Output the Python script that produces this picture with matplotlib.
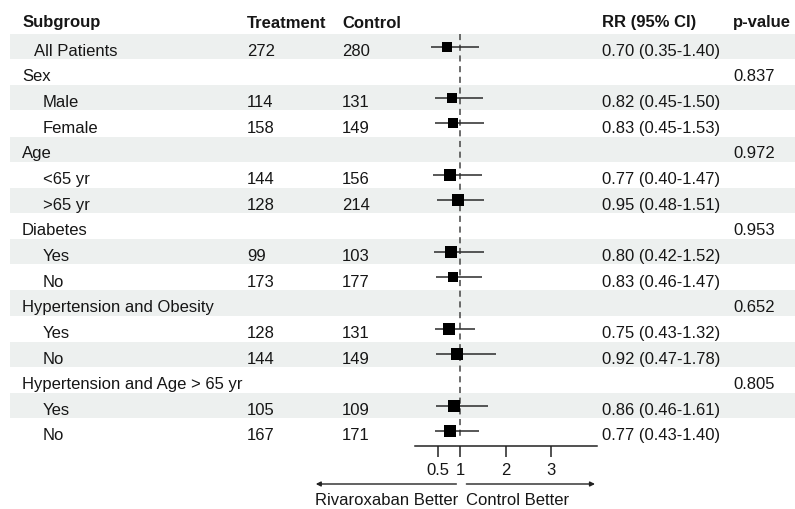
import matplotlib
matplotlib.use("Agg")
import matplotlib.pyplot as plt

plt.rcParams['font.family'] = ['Liberation Sans', 'DejaVu Sans']

# ---- data ----
subgroups = ['All Patients', 'Sex', 'Male', 'Female', 'Age', '<65 yr', '>65 yr',
             'Diabetes', 'Yes', 'No', 'Hypertension and Obesity', 'Yes', 'No',
             'Hypertension and Age > 65 yr', 'Yes', 'No']
is_category = [False, True, False, False, True, False, False,
               True, False, False, True, False, False, True, False, False]
treatment = [272, None, 114, 158, None, 144, 128, None, 99, 173, None, 128, 144, None, 105, 167]
control = [280, None, 131, 149, None, 156, 214, None, 103, 177, None, 131, 149, None, 109, 171]
rr = [0.70, None, 0.82, 0.83, None, 0.77, 0.95, None, 0.80, 0.83, None, 0.75, 0.92, None, 0.86, 0.77]
ci_low = [0.35, None, 0.45, 0.45, None, 0.40, 0.48, None, 0.42, 0.46, None, 0.43, 0.47, None, 0.46, 0.43]
ci_high = [1.40, None, 1.50, 1.53, None, 1.47, 1.51, None, 1.52, 1.47, None, 1.32, 1.78, None, 1.61, 1.40]
p_values = [None, '0.837', None, None, '0.972', None, None, '0.953', None, None,
            '0.652', None, None, '0.805', None, None]
box_px = [9.7, None, 9, 9, None, 11.7, 10.7, None, 11.7, 9, None, 12, 12, None, 11.7, 10.7]
ticks = [0.5, 1, 2, 3]
tick_labels = ['0.5', '1', '2', '3']

# ---- layout (pixel based) ----
W, H = 795, 510
ROW0, PITCH = 47.5, 25.65
FS = 12
TXT = '#161616'
BAND = '#edf0ef'


def row(px):
    return (px - ROW0) / PITCH


fig = plt.figure(figsize=(W / 100, H / 100), dpi=100)
ax = fig.add_axes([0, 0, 1, 1])
ax.set_xlim(0, W)
ax.set_ylim(row(H), row(0))
ax.axis('off')

# shaded bands
for i in range(len(subgroups)):
    if i % 2 == 0:
        ax.axhspan(i - 0.49, i + 0.49, xmin=10 / W, xmax=1, color=BAND, lw=0, zorder=0)

# header
hy = row(27.5)
for x, s in [(23, 'Subgroup'), (247, 'Treatment'), (342, 'Control'),
             (602, 'RR (95% CI)'), (733, 'p-value')]:
    ax.text(x, hy, s, fontsize=FS, fontweight='bold', color=TXT, va='baseline')

off = 0.32
for i, name in enumerate(subgroups):
    y = i + off
    if is_category[i]:
        x = 22
    elif i == 0:
        x = 34
    else:
        x = 43
    ax.text(x, y, name, fontsize=FS, color=TXT, va='baseline')
    if treatment[i] is not None:
        ax.text(247, y, str(treatment[i]), fontsize=FS, color=TXT, va='baseline')
        ax.text(342, y, str(control[i]), fontsize=FS, color=TXT, va='baseline')
        ax.text(602, y, f"{rr[i]:.2f} ({ci_low[i]:.2f}-{ci_high[i]:.2f})",
                fontsize=FS, color=TXT, va='baseline')
    if p_values[i] is not None:
        ax.text(733, y, p_values[i], fontsize=FS, color=TXT, va='baseline')

# forest panel
x_left, x_right = 415, 596.5
y_top, y_axis = 35, 447
axf = fig.add_axes([x_left / W, (H - y_axis) / H, (x_right - x_left) / W, (y_axis - y_top) / H])
axf.set_facecolor('none')
axf.set_xlim(0, 4)
axf.set_ylim(row(y_axis), row(y_top))
for s in ['top', 'left', 'right']:
    axf.spines[s].set_visible(False)
axf.spines['bottom'].set_color('#222222')
axf.spines['bottom'].set_linewidth(1.1)
axf.set_yticks([])
axf.set_xticks(ticks)
axf.set_xticklabels(tick_labels)
axf.tick_params(axis='x', direction='out', length=8, width=1.1, colors='#222222',
                labelsize=FS, labelcolor=TXT, pad=3.5)

axf.vlines(1, -0.49, row(441), colors='#444444', linestyles=(0, (4, 3)), lw=1.1, zorder=1)

for i in range(len(subgroups)):
    if rr[i] is None:
        continue
    axf.hlines(i, ci_low[i], ci_high[i], colors='#2a2a2a', lw=1.1, zorder=2)
    axf.plot(rr[i], i, marker='s', color='black', markeredgewidth=0,
             markersize=(box_px[i] + 0.5) * 0.72, zorder=3)

# direction arrows
ya = row(485)
arrow = dict(arrowstyle='-|>', lw=1, color='#222222', mutation_scale=7, shrinkA=0, shrinkB=0)
axf.annotate('', xy=(1 + (315 - 460) / 45.5, ya), xytext=(1 + (456 - 460) / 45.5, ya),
             xycoords='data', arrowprops=arrow, annotation_clip=False)
axf.annotate('', xy=(1 + (595 - 460) / 45.5, ya), xytext=(1 + (466 - 460) / 45.5, ya),
             xycoords='data', arrowprops=arrow, annotation_clip=False)
ax.text(315, row(505), 'Rivaroxaban Better', fontsize=FS, color=TXT, va='baseline')
ax.text(466, row(505), 'Control Better', fontsize=FS, color=TXT, va='baseline')

fig.savefig('out.png', dpi=100)
